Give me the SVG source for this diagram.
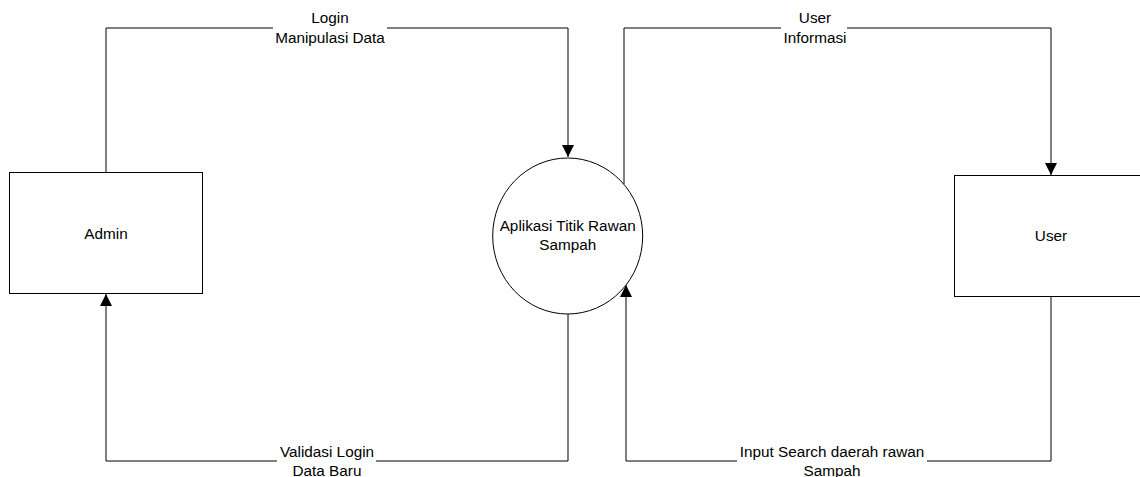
<svg xmlns="http://www.w3.org/2000/svg" width="1140" height="477" viewBox="0 0 1140 477">
  <style>
    .box { fill: #ffffff; stroke: #000000; stroke-width: 1; }
    .flow { fill: none; stroke: #000000; stroke-width: 1; }
    .lbl-bg { fill: #ffffff; stroke: none; }
    text { font-family: "Liberation Sans", Arial, sans-serif; font-size: 15.3px; fill: #000000; text-anchor: middle; }
  </style>
  <defs>
    <marker id="arrow" markerUnits="userSpaceOnUse" markerWidth="12" markerHeight="12" viewBox="0 0 10 10" refX="10" refY="5" orient="auto">
      <path d="M0,0 L10,5 L0,10 Z" fill="#000000"/>
    </marker>
  </defs>

  <rect width="1140" height="477" fill="#ffffff"/>

  <!-- data flows -->
  <g id="connectors">
    <path class="flow" d="M106,172 V28 H568 V157" marker-end="url(#arrow)"/>
    <path class="flow" d="M568,314 V461 H106 V294" marker-end="url(#arrow)"/>
    <path class="flow" d="M624,184 V28 H1051 V175" marker-end="url(#arrow)"/>
    <path class="flow" d="M1051,297 V461 H626 V285" marker-end="url(#arrow)"/>

    <rect class="lbl-bg" x="273" y="20" width="114" height="16"/>
    <text x="330" y="22.5">Login</text>
    <text x="330" y="42.5">Manipulasi Data</text>

    <rect class="lbl-bg" x="781" y="20" width="66" height="16"/>
    <text x="815" y="22.5">User</text>
    <text x="815" y="42.5">Informasi</text>

    <rect class="lbl-bg" x="277" y="453" width="99" height="16"/>
    <text x="327" y="457">Validasi Login</text>
    <text x="327" y="476">Data Baru</text>

    <rect class="lbl-bg" x="737" y="453" width="190" height="16"/>
    <text x="832" y="457">Input Search daerah rawan</text>
    <text x="832" y="476">Sampah</text>
  </g>

  <!-- external entity: Admin -->
  <g id="admin">
    <rect class="box" x="9.5" y="172.5" width="193" height="121"/>
    <text x="106" y="238.5">Admin</text>
  </g>

  <!-- process -->
  <g id="aplikasi">
    <ellipse class="box" cx="567.7" cy="236" rx="75" ry="78"/>
    <text x="567.7" y="231">Aplikasi Titik Rawan</text>
    <text x="567.7" y="249.5">Sampah</text>
  </g>

  <!-- external entity: User -->
  <g id="user">
    <rect class="box" x="954.5" y="175.5" width="200" height="121"/>
    <text x="1051" y="241">User</text>
  </g>
</svg>
